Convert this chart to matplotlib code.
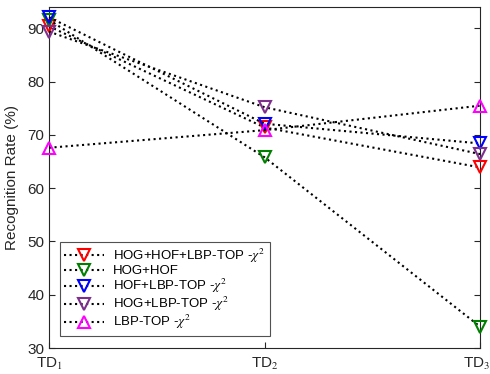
import matplotlib
matplotlib.use('Agg')
import matplotlib.pyplot as plt
from matplotlib.transforms import ScaledTranslation

plt.rcParams['font.family'] = ['Liberation Sans', 'DejaVu Sans']
plt.rcParams['mathtext.fontset'] = 'stix'

# data
positions = ['TD$_1$', 'TD$_2$', 'TD$_3$']
hog_hof_lbp = [90.4, 71.4, 63.9]
hog_hof = [91.6, 65.8, 34.0]
hof_lbp = [92.1, 72.1, 68.4]
hog_lbp = [89.4, 75.2, 66.4]
lbp_top = [67.6, 70.9, 75.5]

series = [
    (hog_hof_lbp, 'HOG+HOF+LBP-TOP -$\\chi^2$', 'red', 'v'),
    (hog_hof, 'HOG+HOF', '#008000', 'v'),
    (hof_lbp, 'HOF+LBP-TOP -$\\chi^2$', 'blue', 'v'),
    (hog_lbp, 'HOG+LBP-TOP -$\\chi^2$', '#7E2F8E', 'v'),
    (lbp_top, 'LBP-TOP -$\\chi^2$', 'magenta', '^'),
]

fig = plt.figure(figsize=(4.9, 3.74), dpi=100)
ax = fig.add_axes([0.1, 0.0695, 0.88, 0.9115])

x = list(range(len(positions)))
for vals, label, col, mk in series:
    ax.plot(x, vals, linestyle=':', color='black', linewidth=1.5,
            marker=mk, markersize=8.5, markeredgewidth=1.5,
            markeredgecolor=col, markerfacecolor='none', label=label,
            clip_on=False, zorder=3)

ax.set_xlim(0, 2)
ax.set_ylim(30, 94)
ax.set_xticks(x)
ax.set_xticklabels(positions)
ax.set_yticks([30, 40, 50, 60, 70, 80, 90])
ax.set_ylabel('Recognition Rate (%)', fontsize=11, color='#262626', labelpad=6)
ax.tick_params(direction='in', labelsize=11, colors='#262626', length=4,
               top=False, right=True)
ax.tick_params(axis='x', pad=6)
for s in ax.spines.values():
    s.set_color('#262626')
    s.set_linewidth(0.8)

# keep the last tick label inside the figure
last = ax.get_xticklabels()[-1]
last.set_transform(last.get_transform() + ScaledTranslation(-4 / 100, 0, fig.dpi_scale_trans))

leg = ax.legend(loc='lower left', bbox_to_anchor=(0.025, 0.035), fontsize=9.5,
                frameon=True, fancybox=False, edgecolor='#262626',
                handlelength=3.0, handletextpad=0.7, borderpad=0.35,
                labelspacing=0.0, borderaxespad=0)
leg.get_frame().set_linewidth(0.8)

fig.savefig('out.png', dpi=100)
